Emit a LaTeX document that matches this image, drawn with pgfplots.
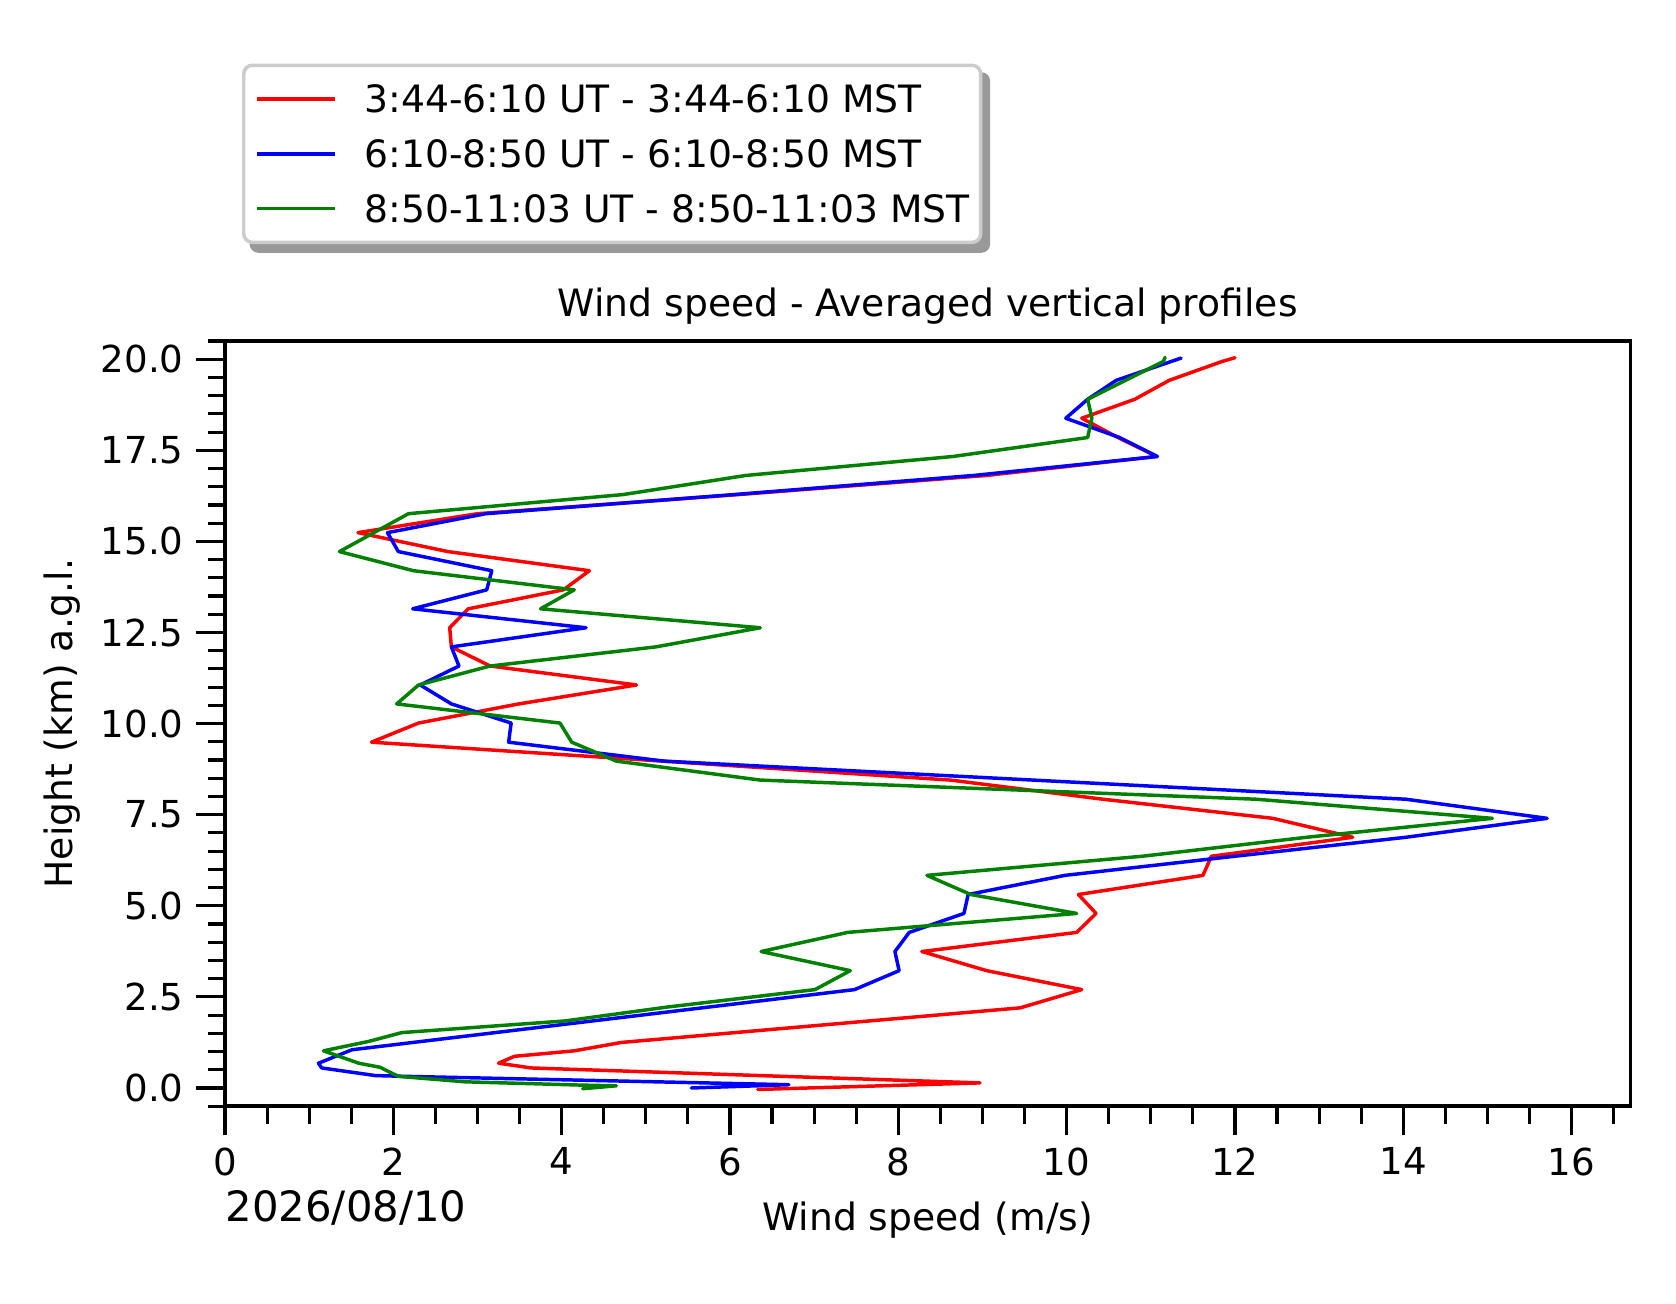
\documentclass[border=0pt]{standalone}
\usepackage{pgfplots}
\pgfplotsset{compat=1.18}
\usepackage{fontspec}
\setmainfont{DejaVu Sans}
\usetikzlibrary{backgrounds}
\definecolor{mplgreen}{RGB}{0,128,0}
\newcommand{\fs}{\fontsize{10.7}{13}\selectfont}
\newcommand{\fl}{\fontsize{10.85}{13}\selectfont}
\begin{document}
\begin{tikzpicture}
\begin{axis}[
  scale only axis, width=404.8pt, height=220.4pt,
  clip mode=individual,
  xmin=0, xmax=16.7, ymin=-0.5, ymax=20.5,
  xtick={0,2,...,16}, ytick={0,2.5,...,20},
  minor xtick={0,0.5,...,16.5}, minor ytick={-0.5,0,...,20.5},
  tick pos=left, tick align=outside,
  major tick length=8.4pt, minor tick length=5pt,
  every tick/.style={black, line width=0.9pt},
  axis line style={line width=1pt},
  yticklabel style={/pgf/number format/fixed, /pgf/number format/fixed zerofill, /pgf/number format/precision=1},
  /pgf/number format/assume math mode=true,
  ticklabel style={font=\fs},
  label style={font=\fl},
  title style={font=\fl, at={(axis description cs:0.5,1.0054)}, anchor=base},
  xlabel style={at={(axis description cs:0.5,-0.1629)}, anchor=base},
  ylabel style={at={(axis description cs:-0.1085,0.5)}, anchor=base},
  title={Wind speed - Averaged vertical profiles},
  xlabel={Wind speed (m/s)},
  ylabel={Height (km) a.g.l.},
  every axis plot/.append style={line width=1pt, line join=round, line cap=round},
  legend style={
    name=leg,
    at={(axis description cs:0,1)}, anchor=south west, xshift=4.9pt, yshift=27.9pt,
    draw=black!20, line width=1pt, rounded corners=2.5pt, fill=white,
    font=\fl, inner xsep=3.2pt, inner ysep=5.75pt, row sep=7.9pt,
    nodes={inner sep=0pt, text height=7.9pt, text depth=0pt},
    /tikz/every odd column/.append style={column sep=8.0pt},
  },
  legend cell align=left,
  legend image code/.code={\draw[#1, line width=1pt, rounded corners=0pt, line cap=butt] (0pt,0pt) -- (22.6pt,0pt);},
]
\addplot[red] coordinates {
(12.00,20.04) (11.85,19.94) (11.22,19.42) (10.81,18.90) (10.18,18.38) (10.61,17.85)
(11.07,17.33) (9.05,16.81) (6.10,16.285) (3.00,15.76) (1.58,15.24) (2.65,14.72)
(4.33,14.195) (4.02,13.67) (2.89,13.15) (2.67,12.63) (2.69,12.105) (3.15,11.58)
(4.89,11.06) (3.49,10.54) (2.30,10.015) (1.74,9.49) (5.20,8.97) (8.62,8.45)
(10.43,7.925) (12.45,7.40) (13.40,6.88) (11.72,6.36) (11.62,5.835) (10.14,5.31)
(10.35,4.79) (10.12,4.27) (8.28,3.745) (9.05,3.22) (10.18,2.70) (9.45,2.20)
(4.71,1.25) (4.15,1.02) (3.44,0.87) (3.25,0.68) (3.64,0.55) (8.97,0.14) (6.33,-0.04)
};
\addlegendentry{3:44-6:10 UT - 3:44-6:10 MST}
\addplot[blue] coordinates {
(11.36,20.03) (10.59,19.42) (10.25,18.90) (9.99,18.38) (10.63,17.85) (11.08,17.33)
(8.90,16.81) (6.05,16.285) (3.10,15.76) (1.93,15.24) (2.06,14.72) (3.17,14.195)
(3.11,13.67) (2.23,13.15) (4.29,12.63) (2.69,12.105) (2.78,11.58) (2.32,11.06)
(2.69,10.54) (3.40,10.015) (3.37,9.49) (5.22,8.97) (9.60,8.45) (14.03,7.925)
(15.71,7.40) (14.03,6.88) (12.00,6.36) (9.98,5.835) (8.83,5.31) (8.78,4.79)
(8.13,4.27) (7.96,3.745) (8.01,3.22) (7.48,2.70) (1.51,1.05) (1.11,0.68)
(1.15,0.55) (1.79,0.34) (2.14,0.32) (6.70,0.09) (5.54,0.00)
};
\addlegendentry{6:10-8:50 UT - 6:10-8:50 MST}
\addplot[mplgreen] coordinates {
(11.17,20.05) (11.15,19.94) (10.25,18.90) (10.30,18.38) (10.25,17.85) (8.65,17.33)
(6.19,16.81) (4.73,16.285) (2.18,15.76) (1.77,15.24) (1.36,14.72) (2.24,14.195)
(4.15,13.67) (3.75,13.15) (6.36,12.63) (5.12,12.105) (3.15,11.58) (2.30,11.06)
(2.04,10.54) (3.98,10.015) (4.12,9.49) (4.65,8.97) (6.36,8.45) (12.25,7.925)
(15.06,7.40) (12.85,6.88) (10.90,6.36) (8.34,5.835) (8.86,5.31) (10.12,4.79)
(7.40,4.27) (6.37,3.745) (7.43,3.22) (7.01,2.70) (5.25,2.22) (4.04,1.84)
(2.10,1.52) (1.71,1.28) (1.17,1.02) (1.59,0.68) (1.84,0.57) (2.06,0.32)
(2.85,0.17) (4.23,0.08) (4.65,0.06) (4.25,-0.02)
};
\addlegendentry{8:50-11:03 UT - 8:50-11:03 MST}
\node[anchor=base west, inner sep=0pt, font=\fontsize{12.03}{14}\selectfont] at (axis description cs:0,-0.150) {2026/08/10};
\end{axis}
\begin{pgfonlayer}{background}
\fill[black!40, rounded corners=2.5pt] ([xshift=2.2pt,yshift=-2.5pt]leg.south west) rectangle ([xshift=2.2pt,yshift=-2.5pt]leg.north east);
\end{pgfonlayer}
\pgfresetboundingbox
\path[use as bounding box] (-64.8pt,-56.7pt) rectangle ++(482.7pt,375.3pt);
\end{tikzpicture}
\end{document}
